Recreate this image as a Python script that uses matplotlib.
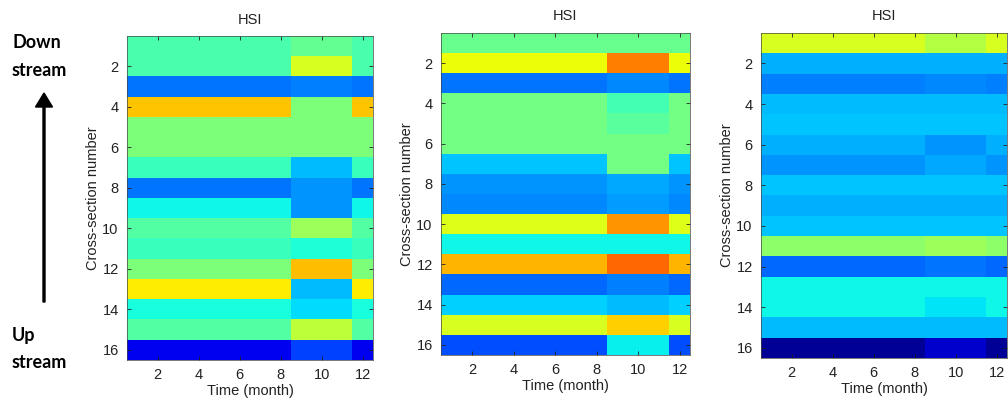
import numpy as np
import matplotlib
matplotlib.use('Agg')
import matplotlib.pyplot as plt

# HSI par section (lignes 1..16) : mois 1-8, mois 9-11, mois 12
hsi_1_m1_8 = [0.44, 0.44, 0.24, 0.70, 0.50, 0.50, 0.42, 0.24, 0.37, 0.45, 0.42, 0.50, 0.66, 0.38, 0.45, 0.10]
hsi_1_m9_11 = [0.47, 0.61, 0.25, 0.50, 0.50, 0.50, 0.31, 0.27, 0.27, 0.54, 0.39, 0.71, 0.31, 0.34, 0.58, 0.19]
hsi_1_m12 = [0.44, 0.44, 0.24, 0.70, 0.50, 0.50, 0.42, 0.24, 0.37, 0.45, 0.42, 0.50, 0.66, 0.38, 0.45, 0.10]

hsi_2_m1_8 = [0.48, 0.64, 0.24, 0.49, 0.49, 0.49, 0.32, 0.27, 0.26, 0.62, 0.37, 0.715, 0.23, 0.33, 0.61, 0.20]
hsi_2_m9_11 = [0.48, 0.775, 0.26, 0.43, 0.46, 0.49, 0.49, 0.29, 0.28, 0.75, 0.37, 0.80, 0.25, 0.31, 0.69, 0.36]
hsi_2_m12 = [0.48, 0.64, 0.24, 0.49, 0.49, 0.49, 0.32, 0.27, 0.26, 0.62, 0.37, 0.715, 0.23, 0.33, 0.61, 0.20]

hsi_3_m1_8 = [0.61, 0.30, 0.25, 0.31, 0.32, 0.30, 0.27, 0.32, 0.30, 0.32, 0.52, 0.23, 0.37, 0.37, 0.31, 0.02]
hsi_3_m9_11 = [0.57, 0.30, 0.26, 0.31, 0.32, 0.27, 0.29, 0.32, 0.30, 0.32, 0.54, 0.24, 0.37, 0.35, 0.31, 0.07]
hsi_3_m12 = [0.61, 0.30, 0.25, 0.31, 0.32, 0.30, 0.27, 0.32, 0.30, 0.32, 0.52, 0.23, 0.37, 0.37, 0.31, 0.02]

mois_ticks = [2, 4, 6, 8, 10, 12]
section_ticks = [2, 4, 6, 8, 10, 12, 14, 16]


def matrice(m1_8, m9_11, m12):
	# 16 sections x 12 mois
	cols = [m1_8] * 8 + [m9_11] * 3 + [m12]
	return np.array(cols).T


panneaux = [
	(matrice(hsi_1_m1_8, hsi_1_m9_11, hsi_1_m12), [127, 36, 373, 360]),
	(matrice(hsi_2_m1_8, hsi_2_m9_11, hsi_2_m12), [441, 33, 690, 355]),
	(matrice(hsi_3_m1_8, hsi_3_m9_11, hsi_3_m12), [761, 33, 1007, 358]),
]

W, H = 1008, 404
plt.rcParams['font.family'] = ['Liberation Sans', 'DejaVu Sans']
fig = plt.figure(figsize=(W / 100, H / 100), dpi=100)

for data, (x0, y0, x1, y1) in panneaux:
	ax = fig.add_axes([x0 / W, 1 - y1 / H, (x1 - x0) / W, (y1 - y0) / H])
	ax.imshow(data, cmap='jet', vmin=0, vmax=1, aspect='auto',
		extent=(0.5, 12.5, 16.5, 0.5), interpolation='nearest')
	ax.set_xticks(mois_ticks)
	ax.set_yticks(section_ticks)
	ax.tick_params(direction='in', length=3, width=0.6, top=True, right=True,
		labelsize=10.5, colors='#222222', pad=6)
	for s in ax.spines.values():
		s.set_linewidth(0.5)
		s.set_color('#444444')
	ax.set_title('HSI', fontsize=10.5, color='#222222', pad=9)
	ax.set_xlabel('Time (month)', fontsize=10.5, color='#222222', labelpad=1)
	ax.set_ylabel('Cross-section number', fontsize=10.5, color='#222222', labelpad=2)

# Annotations amont / aval
fig.text(12 / W, 1 - 43 / H, 'Down', fontsize=13, fontweight='bold', family='Lato', va='center', ha='left')
fig.text(12 / W, 1 - 70 / H, 'stream', fontsize=13, fontweight='bold', family='Lato', va='center', ha='left')
fig.text(12 / W, 1 - 336 / H, 'Up', fontsize=13, fontweight='bold', family='Lato', va='center', ha='left')
fig.text(12 / W, 1 - 363 / H, 'stream', fontsize=13, fontweight='bold', family='Lato', va='center', ha='left')
fig.patches.append(matplotlib.patches.FancyArrow(
	44 / W, 1 - 302 / H, 0, 209 / H, width=2 / W, head_width=17 / W, head_length=14 / H,
	length_includes_head=True, color='black', transform=fig.transFigure, figure=fig))

fig.savefig('out.png', dpi=100)
